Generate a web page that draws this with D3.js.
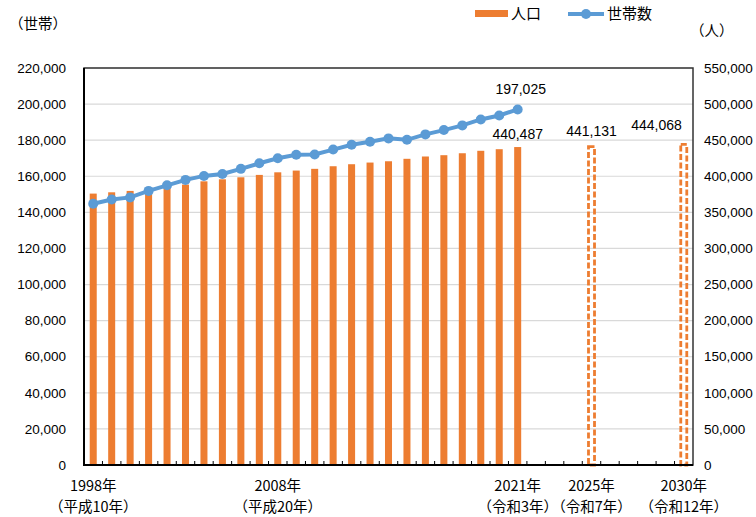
<!DOCTYPE html>
<html lang="ja">
<head>
<meta charset="UTF-8">
<title>人口・世帯数の推移</title>
<script src="https://d3js.org/d3.v7.min.js"></script>
<style>
    body { margin: 0; background: #fff; }
    svg text { font-family: "Liberation Sans", "Noto Sans CJK JP", sans-serif; fill: #000; }
    .jp { font-family: "Noto Sans CJK JP", sans-serif; }
</style>
</head>
<body>
<svg id="chart" width="756" height="517"></svg>
<script>
// 年（横軸カテゴリ）
const years = d3.range(1998, 2031).map(String);
// 人口（実績）
const popYears = ["1998","1999","2000","2001","2002","2003","2004","2005","2006","2007","2008","2009",
                  "2010","2011","2012","2013","2014","2015","2016","2017","2018","2019","2020","2021"];
const population = [376000, 377800, 379700, 381000, 384500, 388500, 393000, 395800, 398600, 401900, 405500, 407900,
                    410300, 413900, 416700, 419000, 420800, 424200, 427400, 429200, 431900, 435300, 437500, 440487];
// 世帯数
const households = [144800, 147100, 148300, 151900, 155000, 158000, 160200, 161300, 164100, 167200, 170000, 171900,
                    172100, 174800, 177500, 179100, 181000, 180200, 183200, 185600, 188200, 191500, 193700, 197025];
// 人口（推計）
const projYears = ["2025", "2030"];
const projPopulation = [441131, 444068];
// 目盛
const leftTicks = d3.range(0, 220001, 20000);
const rightTicks = d3.range(0, 550001, 50000);
// 横軸ラベル
const labelYears = ["1998", "2008", "2021", "2025", "2030"];
const labelLine1 = ["1998年", "2008年", "2021年", "2025年", "2030年"];
const labelLine2 = ["（平成10年）", "（平成20年）", "（令和3年）", "（令和7年）", "（令和12年）"];

const pLeft = 84, pRight = 693, pTop = 68, pBottom = 465;
const svg = d3.select("#chart");
const fmt = d3.format(",");

const x = d3.scaleBand().domain(years).range([pLeft, pRight]).paddingInner(0.62).paddingOuter(0.31);
const xb = d3.scaleBand().domain(years).range([pLeft, pRight]).padding(0); // 目盛線用
const yL = d3.scaleLinear().domain([0, 220000]).range([pBottom, pTop]);
const yR = d3.scaleLinear().domain([0, 550000]).range([pBottom, pTop]);
const cx = d => x(d) + x.bandwidth() / 2;

// グリッド線
svg.append("g").selectAll("line").data(leftTicks.slice(1)).join("line")
    .attr("x1", pLeft).attr("x2", pRight)
    .attr("y1", d => yL(d)).attr("y2", d => yL(d))
    .attr("stroke", "#d9d9d9").attr("stroke-width", 1.2);

// 枠
svg.append("rect").attr("x", pLeft).attr("y", pTop)
    .attr("width", pRight - pLeft).attr("height", pBottom - pTop)
    .attr("fill", "none").attr("stroke", "#333").attr("stroke-width", 1.5);

// 人口（棒）
svg.append("g").selectAll("rect").data(popYears).join("rect")
    .attr("x", d => x(d)).attr("width", x.bandwidth())
    .attr("y", (d, i) => yR(population[i]))
    .attr("height", (d, i) => pBottom - yR(population[i]))
    .attr("fill", "#ed7d31");

// 推計（破線の棒）
svg.append("g").selectAll("rect").data(projYears).join("rect")
    .attr("x", d => x(d) + 0.5).attr("width", x.bandwidth() - 1)
    .attr("y", (d, i) => yR(projPopulation[i]))
    .attr("height", (d, i) => pBottom - yR(projPopulation[i]))
    .attr("fill", "none").attr("stroke", "#ed7d31")
    .attr("stroke-width", 2.8).attr("stroke-dasharray", "6,2.5");

// 世帯数（折れ線）
const line = d3.line().x(d => cx(d[0])).y(d => yL(d[1]));
const hh = popYears.map((d, i) => [d, households[i]]);
svg.append("path").datum(hh).attr("d", line)
    .attr("fill", "none").attr("stroke", "#5b9bd5").attr("stroke-width", 4);
svg.append("g").selectAll("circle").data(hh).join("circle")
    .attr("cx", d => cx(d[0])).attr("cy", d => yL(d[1])).attr("r", 5)
    .attr("fill", "#5b9bd5");

// 軸線
svg.append("line").attr("x1", pLeft).attr("x2", pLeft).attr("y1", pTop).attr("y2", pBottom + 1)
    .attr("stroke", "#000").attr("stroke-width", 2);
svg.append("line").attr("x1", pLeft - 1).attr("x2", pRight).attr("y1", pBottom).attr("y2", pBottom)
    .attr("stroke", "#000").attr("stroke-width", 2);
svg.append("g").selectAll("line").data(years.slice(1)).join("line")
    .attr("x1", d => xb(d)).attr("x2", d => xb(d))
    .attr("y1", pBottom).attr("y2", pBottom - 4)
    .attr("stroke", "#000").attr("stroke-width", 1);

// 左目盛
svg.append("g").selectAll("text").data(leftTicks).join("text")
    .attr("x", 66).attr("y", d => yL(d)).attr("dy", "0.35em")
    .attr("text-anchor", "end").style("font-size", "13.5px")
    .text(d => fmt(d));
// 右目盛
svg.append("g").selectAll("text").data(rightTicks).join("text")
    .attr("x", 704).attr("y", d => yR(d)).attr("dy", "0.35em")
    .attr("text-anchor", "start").style("font-size", "13.5px")
    .text(d => fmt(d));

// 横軸ラベル
const xl = svg.append("g").style("font-size", "14.5px");
xl.selectAll("text.l1").data(labelYears).join("text").attr("class", "l1 jp")
    .attr("x", d => cx(d)).attr("y", 491).attr("text-anchor", "middle")
    .text((d, i) => labelLine1[i]);
xl.selectAll("text.l2").data(labelYears).join("text").attr("class", "l2 jp")
    .attr("x", d => cx(d)).attr("y", 512).attr("text-anchor", "middle")
    .text((d, i) => labelLine2[i]);

// データラベル
const lbl = svg.append("g").style("font-size", "14px");
lbl.append("text").attr("x", cx("2021") + 3).attr("y", yL(197025) - 15)
    .attr("text-anchor", "middle").text(fmt(197025));
lbl.append("text").attr("x", cx("2021")).attr("y", yR(440487) - 8)
    .attr("text-anchor", "middle").text(fmt(440487));
lbl.append("text").attr("x", cx("2025")).attr("y", yR(441131) - 11)
    .attr("text-anchor", "middle").text(fmt(441131));
lbl.append("text").attr("x", cx("2030") - 2).attr("y", yR(444068) - 14)
    .attr("text-anchor", "end").text(fmt(444068));

// 単位
svg.append("text").attr("class", "jp").attr("x", 9).attr("y", 29)
    .style("font-size", "14.5px").text("（世帯）");
svg.append("text").attr("class", "jp").attr("x", 690).attr("y", 36)
    .style("font-size", "14.5px").text("（人）");

// 凡例
const lg = svg.append("g");
lg.append("rect").attr("x", 475).attr("y", 10).attr("width", 33).attr("height", 7).attr("fill", "#ed7d31");
lg.append("text").attr("class", "jp").attr("x", 511).attr("y", 19).style("font-size", "15px").text("人口");
lg.append("line").attr("x1", 568).attr("x2", 604).attr("y1", 14).attr("y2", 14)
    .attr("stroke", "#5b9bd5").attr("stroke-width", 4);
lg.append("circle").attr("cx", 586).attr("cy", 14).attr("r", 5).attr("fill", "#5b9bd5");
lg.append("text").attr("class", "jp").attr("x", 607).attr("y", 19).style("font-size", "15px").text("世帯数");
</script>
</body>
</html>
